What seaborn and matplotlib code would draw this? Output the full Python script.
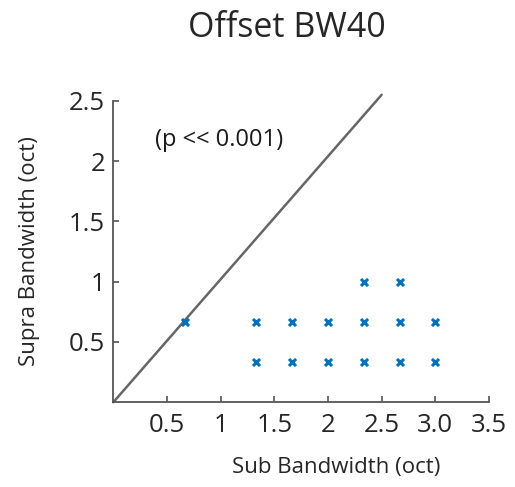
import matplotlib
matplotlib.use("Agg")
import matplotlib.pyplot as plt
import seaborn as sns
import pandas as pd

sub_bw = [0.667, 1.333, 1.333, 1.667, 1.667, 2.0, 2.0, 2.333, 2.333, 2.333,
          2.667, 2.667, 2.667, 3.0, 3.0]
supra_bw = [0.667, 0.333, 0.667, 0.333, 0.667, 0.333, 0.667, 0.333, 0.667, 1.0,
            0.333, 0.667, 1.0, 0.333, 0.667]
x_ticks = [0.5, 1, 1.5, 2, 2.5, 3.0, 3.5]
x_ticklabels = ["0.5", "1", "1.5", "2", "2.5", "3.0", "3.5"]
y_ticks = [0.5, 1, 1.5, 2, 2.5]
y_ticklabels = ["0.5", "1", "1.5", "2", "2.5"]
unity_x = [0, 2.5]
unity_y = [0, 2.55]

sns.set_style("white")
plt.rcParams['font.family'] = ['Open Sans', 'DejaVu Sans']

df = pd.DataFrame({"sub": sub_bw, "supra": supra_bw})

fig = plt.figure(figsize=(5.15, 4.87), dpi=100)
ax = fig.add_axes([0.220, 0.174, 0.7295, 0.619])

ax.plot(unity_x, unity_y, color="#666666", lw=1.8, clip_on=False, zorder=1)
sns.scatterplot(data=df, x="sub", y="supra", marker="x", color="#0072BD",
                s=26, linewidth=2.2, ax=ax, zorder=3, clip_on=False)

ax.set_xlim(0, 3.5)
ax.set_ylim(0, 2.5)
ax.set_xticks(x_ticks)
ax.set_xticklabels(x_ticklabels)
ax.set_yticks(y_ticks)
ax.set_yticklabels(y_ticklabels)

for s in ["top", "right"]:
    ax.spines[s].set_visible(False)
for s in ["left", "bottom"]:
    ax.spines[s].set_color("#555555")
    ax.spines[s].set_linewidth(1.3)

ax.tick_params(axis="both", direction="in", length=4, width=1.2,
               color="#555555", labelsize=18.5, labelcolor="#262626",
               left=True, bottom=True)
ax.tick_params(axis="x", pad=8)
ax.tick_params(axis="y", pad=6)

ax.set_xlabel("")
ax.set_ylabel("")
fig.text(336 / 515, 1 - 468 / 487, "Sub Bandwidth (oct)", ha="center",
         va="center", fontsize=16, color="#262626")
fig.text(30 / 515, 1 - 251 / 487, "Supra Bandwidth (oct)", ha="center",
         va="center", rotation=90, fontsize=16, color="#262626")
fig.text(287 / 515, 1 - 28 / 487, "Offset BW40", ha="center", va="center",
         fontsize=24.5, color="#262626")
ax.text(0.39, 2.175, "(p << 0.001)", ha="left", va="center", fontsize=17,
        color="#1a1a1a")

fig.savefig("out.png", dpi=100)
